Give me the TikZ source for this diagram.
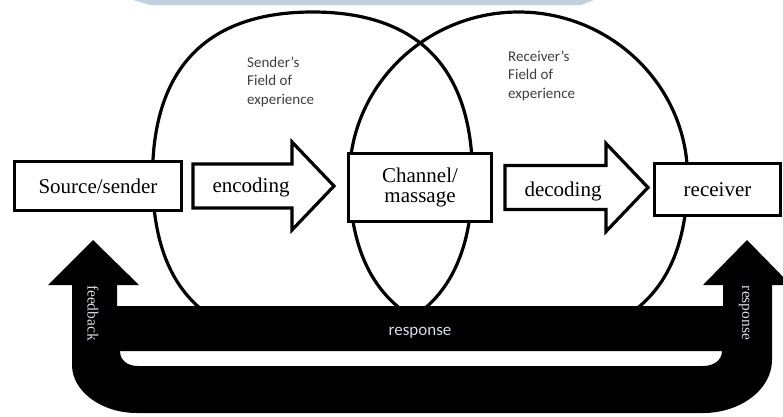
\documentclass[tikz,border=0pt]{standalone}
\usepackage{fontspec}
\setmainfont{Liberation Serif}
\newfontfamily\fieldfont{Carlito}
\usetikzlibrary{calc}

\definecolor{headerblue}{RGB}{194,208,222}
\definecolor{fieldgray}{RGB}{62,62,62}
\definecolor{bandtext}{RGB}{214,220,232}

\tikzset{
	box/.style={draw, fill=white, line width=3.2pt, inner sep=0pt, align=center, font=\fontsize{21}{20}\selectfont},
	fatarrow/.style={draw, fill=white, line width=3.2pt},
	arrowlabel/.style={inner sep=0pt, font=\fontsize{21}{21}\selectfont},
	field/.style={anchor=north west, inner sep=0pt, align=left, text=fieldgray, font=\fieldfont\fontsize{15}{18.5}\selectfont},
	bandlabel/.style={inner sep=0pt, text=bandtext},
}

\begin{document}
\begin{tikzpicture}[x=1pt, y=-1pt]
	\useasboundingbox (0,0) rectangle (783,416);
	\fill[headerblue] (133,0) -- (594,0) -- (581,5) -- (150,5) -- cycle;

	% the two fields of experience
	\foreach \cx/\rx/\kt/\kb in {312.5/160/0.66/0.67, 518.5/169/0.55/0.67}
		\draw[line width=3.2pt] ({\cx+\rx},177)
			.. controls ({\cx+\rx},{177-165*\kt}) and ({\cx+\rx*\kt},12) .. (\cx,12)
			.. controls ({\cx-\rx*\kt},12) and ({\cx-\rx},{177-165*\kt}) .. ({\cx-\rx},177)
			.. controls ({\cx-\rx},{177+165*\kb}) and ({\cx-\rx*\kb},342) .. (\cx,342)
			.. controls ({\cx+\rx*\kb},342) and ({\cx+\rx},{177+165*\kb}) .. cycle;
	\node[field] (sfield) at (247,56.5) {Sender’s\\Field of\\experience};
	\node[field] (rfield) at (508,50.3) {Receiver’s\\Field of\\experience};

	\node[box, minimum width=166.8pt, minimum height=48.8pt] (source) at (98,186) {Source/sender};
	\node[box, minimum width=142.8pt, minimum height=67.8pt] (channel) at (420,187.5) {Channel/\\massage};
	\node[box, minimum width=125.8pt, minimum height=51.8pt] (receiver) at (717.5,189.5) {receiver};

	% encoding
	\coordinate (EA) at ([xshift=10pt]source.east);
	\coordinate (EB) at ([xshift=-13pt]source.east -| channel.west);
	\draw[fatarrow] ($(EA)+(0,-22)$) -- ($(EB)+(-42,-22)$) -- ($(EB)+(-42,-44)$) -- (EB)
		-- ($(EB)+(-42,44)$) -- ($(EB)+(-42,22)$) -- ($(EA)+(0,22)$) -- cycle;
	\node[arrowlabel] (enc) at (251,187) {encoding};

	% decoding
	\coordinate (DA) at ([xshift=12pt]channel.east);
	\coordinate (DB) at ([xshift=-5pt]channel.east -| receiver.west);
	\draw[fatarrow] ($(DA)+(0,-22)$) -- ($(DB)+(-42,-22)$) -- ($(DB)+(-42,-44)$) -- (DB)
		-- ($(DB)+(-42,44)$) -- ($(DB)+(-42,22)$) -- ($(DA)+(0,22)$) -- cycle;
	\node[arrowlabel] (dec) at (563,191) {decoding};

	% feedback / response loop
	\fill[even odd rule] (93,240) -- (139,285) -- (117,285) -- (117,306) -- (723,306) -- (723,285)
		-- (703,285) -- (747,240) -- (791,285) -- (772,285) -- (772,360)
		.. controls (772,389) and (741,413) .. (703,413) -- (137,413)
		.. controls (101,413) and (72,391) .. (72,365) -- (72,285) -- (48,285) -- cycle
		(120,351) -- (722,351) .. controls (722,360) and (714,366) .. (703,366) -- (138,366)
		.. controls (127,366) and (120,360) .. cycle;
	\node[bandlabel, rotate=-90, font=\fontsize{15.5}{15.5}\selectfont] (feedback) at (93,313) {feedback};
	\node[bandlabel, rotate=-90, font=\fontsize{15.5}{15.5}\selectfont] (rresponse) at (744,313) {response};
	\node[bandlabel, font=\fieldfont\fontsize{17}{17}\selectfont] (mresponse) at (420,333) {response};
\end{tikzpicture}
\end{document}
